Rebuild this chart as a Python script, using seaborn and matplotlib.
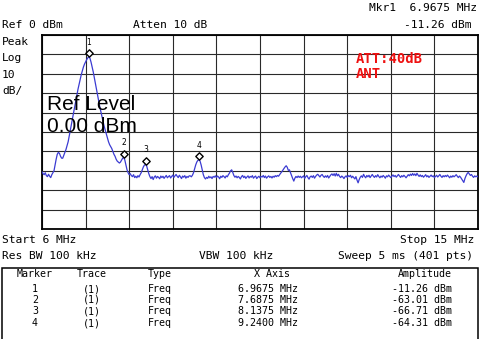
import numpy as np
import pandas as pd
import matplotlib
matplotlib.use("Agg")
import matplotlib.pyplot as plt
import seaborn as sns
from matplotlib.transforms import offset_copy
from matplotlib.patches import Rectangle

# Sweep settings
START_MHZ = 6.0
STOP_MHZ = 15.0
N_POINTS = 401
REF_DBM = 0.0
DB_PER_DIV = 10

# Trace 1 amplitude (dBm), one value per sweep point
trace_dbm = [
    -70.5, -71.5, -72.0, -71.0, -72.5, -73.0, -71.8, -72.8, -73.5, -72.0, -71.0, -70.0, -67.0, -64.0, -61.5, -60.5, -61.0, -62.5, -63.5, -63.5,
    -62.0, -60.5, -59.0, -57.0, -55.0, -52.0, -49.0, -46.0, -43.0, -40.0, -37.0, -34.0, -31.0, -28.0, -25.5, -23.0, -20.5, -18.5, -16.5, -15.0,
    -13.8, -12.7, -11.8, -11.26, -12.0, -14.0, -16.5, -19.0, -22.0, -25.0, -28.0, -31.0, -34.0, -37.0, -39.5, -42.0, -44.5, -47.0, -49.0, -51.0,
    -53.0, -55.0, -56.5, -57.5, -58.5, -60.0, -61.5, -62.5, -64.0, -65.0, -65.5, -66.0, -65.5, -64.5, -63.5, -63.01, -64.5, -67.0, -69.5, -71.0,
    -72.0, -71.5, -72.5, -73.0, -72.0, -73.5, -72.8, -73.6, -72.5, -73.2, -72.0, -71.0, -69.5, -68.0, -67.0, -66.71, -67.5, -69.5, -71.5, -73.0,
    -74.0, -73.0, -74.5, -73.2, -72.6, -73.8, -72.9, -73.4, -74.1, -72.7, -73.5, -72.8, -73.9, -73.1, -72.4, -73.6, -73.0, -72.5, -73.7, -72.9,
    -72.2, -73.4, -72.6, -71.9, -72.8, -73.5, -72.3, -73.1, -74.0, -72.7, -73.3, -72.5, -73.8, -72.9, -73.4, -72.6, -72.6, -73.1, -72.3, -71.0,
    -69.0, -67.0, -65.5, -64.6, -64.31, -65.0, -67.0, -69.5, -72.0, -73.5, -74.2, -73.4, -73.9, -72.8, -73.6, -73.1, -74.0, -72.9, -73.3, -72.6,
    -73.5, -72.7, -73.2, -74.1, -72.8, -73.4, -72.5, -73.0, -73.7, -72.6, -73.1, -72.0, -71.2, -70.0, -69.5, -70.8, -72.4, -73.3, -72.7, -73.6,
    -72.9, -73.4, -74.2, -73.0, -72.4, -73.5, -72.8, -73.9, -73.2, -72.6, -73.7, -72.9, -73.3, -72.5, -73.8, -73.1, -72.7, -74.0, -73.3, -72.8,
    -73.6, -72.9, -73.2, -72.4, -73.5, -72.7, -73.8, -73.1, -72.6, -73.4, -72.9, -73.7, -72.8, -73.3, -72.5, -73.0, -72.4, -72.8, -72.0, -71.2,
    -70.5, -69.6, -68.8, -68.0, -67.4, -68.2, -69.8, -69.5, -71.0, -72.6, -74.0, -75.3, -73.8, -72.9, -73.5, -72.7, -73.4, -72.8, -73.6, -73.1,
    -72.6, -73.9, -73.0, -72.4, -73.5, -74.3, -73.1, -72.7, -73.4, -72.5, -73.8, -72.9, -72.2, -71.8, -72.5, -73.2, -72.3, -71.9, -72.8, -73.4,
    -72.6, -73.3, -72.4, -73.7, -72.9, -72.1, -71.6, -72.4, -71.5, -72.7, -71.3, -72.6, -71.8, -72.9, -73.5, -72.7, -73.2, -74.0, -73.1, -72.6,
    -73.4, -72.5, -73.0, -72.3, -73.6, -72.8, -73.5, -74.2, -73.0, -74.8, -76.2, -74.5, -73.3, -72.6, -73.4, -71.8, -72.9, -73.6, -72.4, -73.1,
    -72.3, -73.5, -72.7, -71.9, -72.8, -73.4, -72.5, -73.2, -72.0, -72.9, -73.6, -72.7, -73.3, -72.4, -73.0, -73.8, -72.6, -73.1, -72.2, -72.9,
    -73.5, -72.8, -72.1, -73.0, -72.4, -73.3, -72.6, -71.9, -72.7, -73.4, -72.5, -73.1, -72.3, -72.9, -73.6, -72.8, -72.0, -72.6, -71.7, -72.4,
    -71.4, -72.3, -71.6, -72.5, -71.3, -72.2, -72.9, -72.1, -73.0, -72.4, -73.3, -72.7, -72.0, -73.1, -72.5, -73.4, -72.8, -72.2, -73.0, -72.6,
    -73.5, -72.9, -72.3, -73.2, -72.6, -71.9, -72.8, -73.4, -72.5, -73.1, -72.4, -73.0, -72.2, -72.9, -73.6, -72.7, -73.3, -72.5, -73.1, -72.6,
    -72.0, -72.8, -73.5, -72.7, -73.3, -74.2, -75.0, -76.0, -74.0, -72.6, -71.5, -70.8, -71.6, -72.4, -71.9, -72.8, -73.4, -72.6, -73.1, -72.7,
    -73.2,
]

# Marker table
marker_ids = [1, 2, 3, 4]
marker_trace = ["(1)", "(1)", "(1)", "(1)"]
marker_type = ["Freq", "Freq", "Freq", "Freq"]
marker_freq_mhz = [6.9675, 7.6875, 8.1375, 9.2400]
marker_amp_dbm = [-11.26, -63.01, -66.71, -64.31]

W, H = 480, 339
MONO = "DejaVu Sans Mono"
BLUE = "#3b3bd2"

freq_mhz = np.linspace(START_MHZ, STOP_MHZ, N_POINTS)
df = pd.DataFrame({"freq": freq_mhz, "amp": trace_dbm})
mk = pd.DataFrame({"freq": marker_freq_mhz, "amp": marker_amp_dbm, "id": marker_ids})

sns.set_theme(style="white")
plt.rcParams["font.family"] = ["DejaVu Sans"]

fig = plt.figure(figsize=(W / 100, H / 100), dpi=100)
fig.patch.set_facecolor("white")
ax = fig.add_axes([42 / W, (H - 229) / H, 436 / W, 194 / H])
ax.set_facecolor("white")

# Graticule: 10 x 10 divisions
ax.set_xlim(START_MHZ, STOP_MHZ)
ax.set_ylim(REF_DBM - 10 * DB_PER_DIV, REF_DBM)
ax.set_xticks(np.linspace(START_MHZ, STOP_MHZ, 11))
ax.set_yticks(np.arange(REF_DBM - 10 * DB_PER_DIV, REF_DBM + 1, DB_PER_DIV))
ax.tick_params(length=0, labelbottom=False, labelleft=False)
ax.grid(True, color="#2a2a2a", linewidth=0.8)
for sp in ax.spines.values():
    sp.set_color("black")
    sp.set_linewidth(1.3)

sns.lineplot(data=df, x="freq", y="amp", ax=ax, color=BLUE, linewidth=0.9, zorder=3)
ax.set_xlabel("")
ax.set_ylabel("")

# Marker diamonds sit on top of the trace point
up = offset_copy(ax.transData, fig=fig, x=0, y=3.5, units="dots")
sns.scatterplot(data=mk, x="freq", y="amp", ax=ax, marker="D", s=14,
                facecolor="white", edgecolor="black", linewidth=1.0,
                transform=up, zorder=5, legend=False)
ax.set_xlabel("")
ax.set_ylabel("")
for f, a, i in zip(marker_freq_mhz, marker_amp_dbm, marker_ids):
    ax.annotate(str(i), (f, a), xytext=(0, 10.5), textcoords="offset points",
                ha="center", va="center", fontsize=5.5, color="black", zorder=6)

# Reference level overlay
ax.text(47 / 436 * 0 + 0.0115, 1 - (104 - 35) / 194, "Ref Level", transform=ax.transAxes,
        family="Liberation Sans", fontsize=15, ha="left", va="center", color="black", zorder=7)
ax.text(0.0115, 1 - (127 - 35) / 194, "0.00 dBm", transform=ax.transAxes,
        family="Liberation Sans", fontsize=15, ha="left", va="center", color="black", zorder=7)
ax.text((356 - 42) / 436, 1 - (59 - 35) / 194, "ATT:40dB", transform=ax.transAxes,
        family=MONO, fontweight="bold", fontsize=10, ha="left", va="center", color="#ee1111", zorder=7)
ax.text((356 - 42) / 436, 1 - (73.5 - 35) / 194, "ANT", transform=ax.transAxes,
        family=MONO, fontweight="bold", fontsize=10, ha="left", va="center", color="#ee1111", zorder=7)


def put(x, y, s, size=8.1, ha="left"):
    fig.text(x / W, 1 - y / H, s, family=MONO, fontsize=size, ha=ha, va="center", color="black")


# Header annotations
put(477, 8, f"Mkr{marker_ids[0]}  {marker_freq_mhz[0]:.4f} MHz", ha="right")
put(472, 25, f"{marker_amp_dbm[0]:.2f} dBm", ha="right")
put(2, 25, f"Ref {REF_DBM:.0f} dBm")
put(133, 25, "Atten 10 dB")
for yy, s in zip([42, 58, 75, 91], ["Peak", "Log", f"{DB_PER_DIV}", "dB/"]):
    put(2, yy, s)

# Footer annotations
put(2, 240, f"Start {START_MHZ:.0f} MHz")
put(474, 240, f"Stop {STOP_MHZ:.0f} MHz", ha="right")
put(2, 256, "Res BW 100 kHz")
put(199, 256, "VBW 100 kHz")
put(473, 256, f"Sweep 5 ms ({N_POINTS} pts)", ha="right")

# Marker table
fig.patches.append(Rectangle((2 / W, -0.05), 476 / W, 0.05 + 1 - 268 / H,
                             transform=fig.transFigure, fill=False,
                             edgecolor="black", linewidth=1.1))
TS = 7.2
put(35, 274, "Marker", TS, "center")
put(92, 274, "Trace", TS, "center")
put(160, 274, "Type", TS, "center")
put(272, 274, "X Axis", TS, "center")
put(452, 274, "Amplitude", TS, "right")
for k, yy in enumerate([289, 300, 311.5, 323]):
    put(35, yy, str(marker_ids[k]), TS, "center")
    put(92, yy, marker_trace[k], TS, "center")
    put(148, yy, marker_type[k], TS, "left")
    put(268, yy, f"{marker_freq_mhz[k]:.4f} MHz", TS, "center")
    put(452, yy, f"{marker_amp_dbm[k]:.2f} dBm", TS, "right")

fig.savefig("out.png", dpi=100, facecolor="white")
